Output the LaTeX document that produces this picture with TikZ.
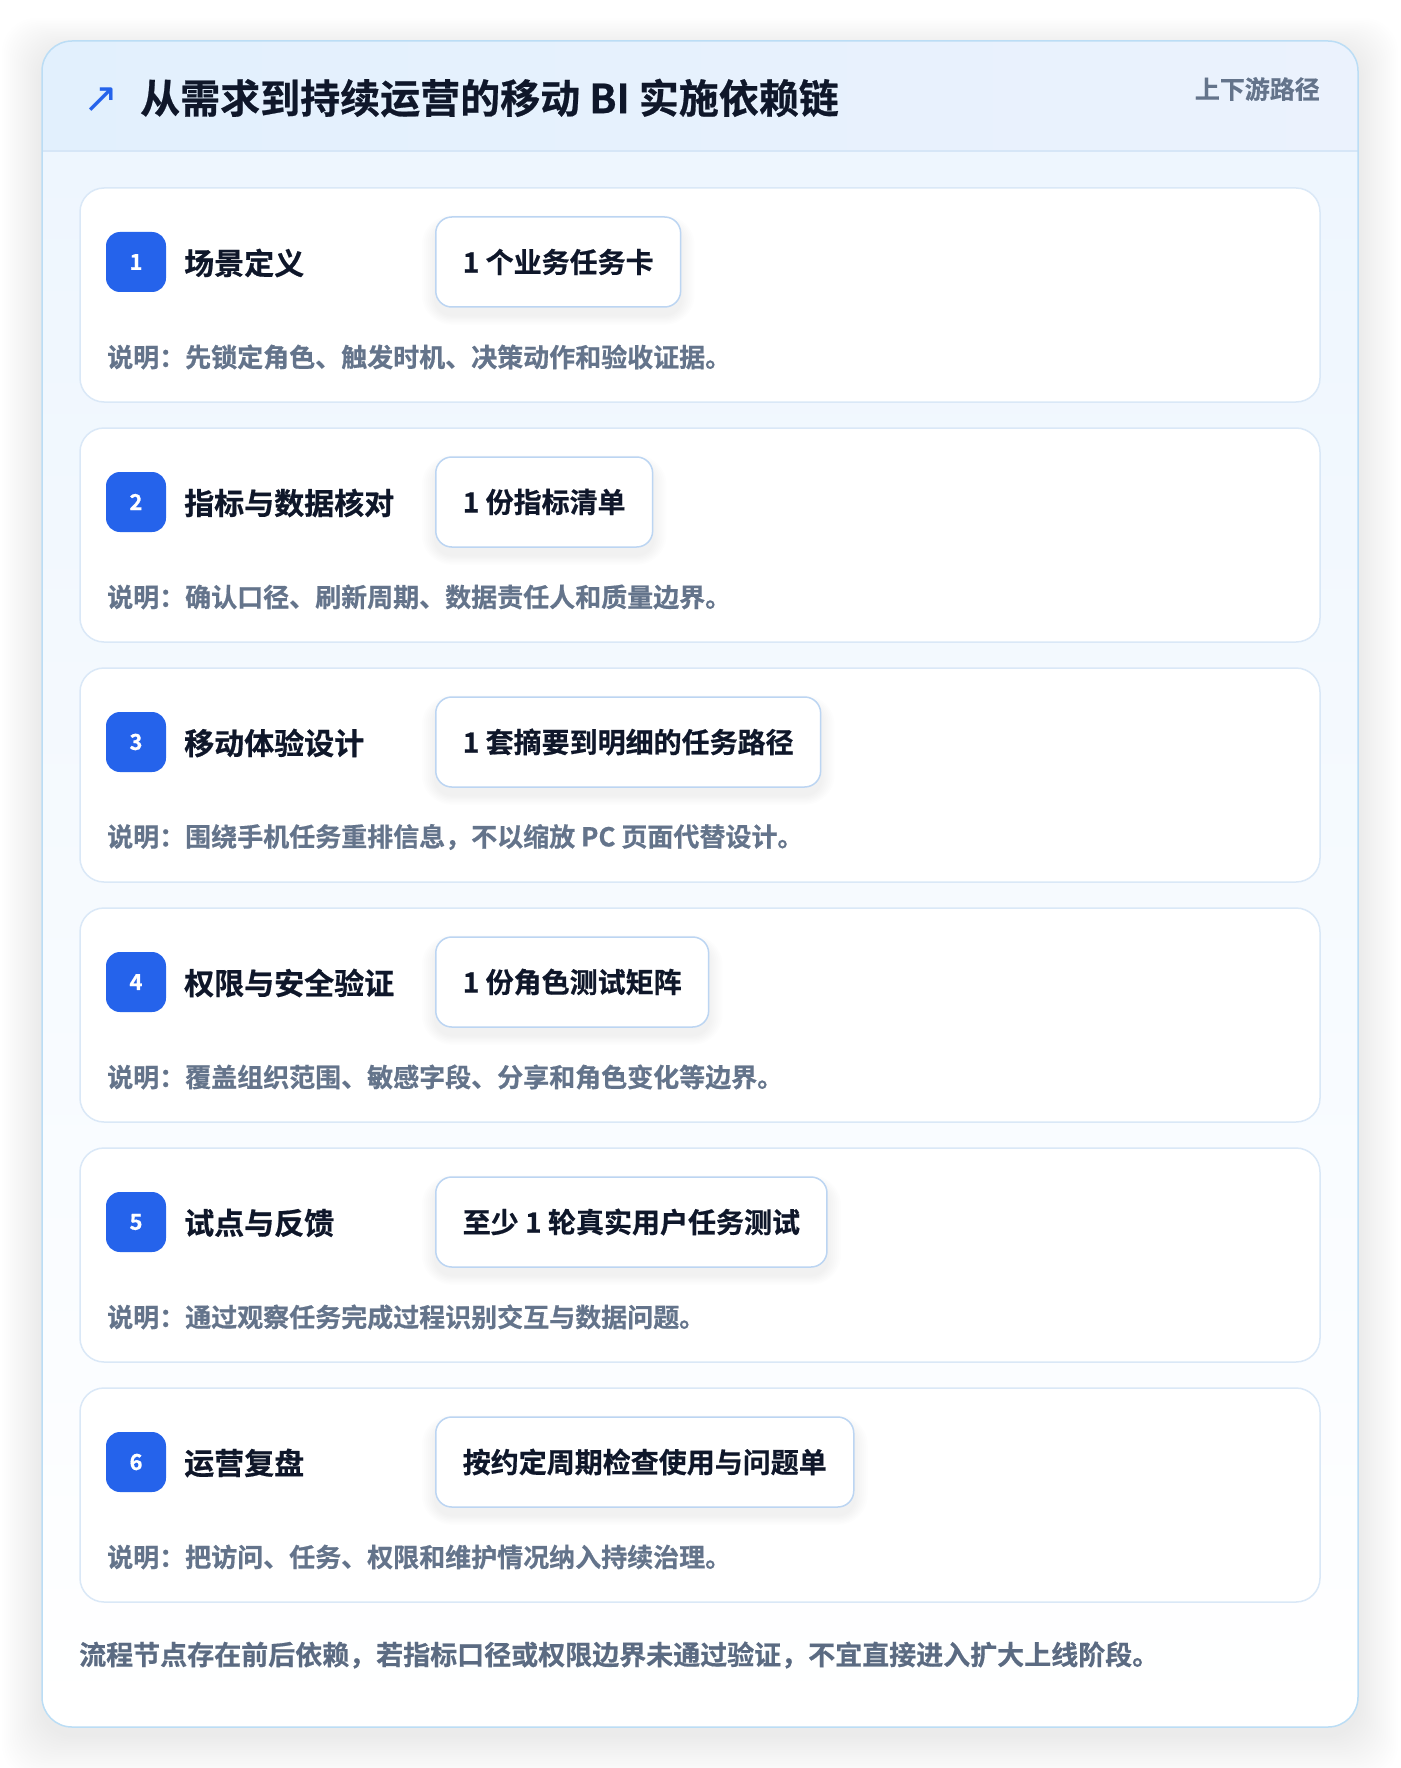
\documentclass[tikz,border=0pt]{standalone}
\usepackage{fontspec}
\setmainfont{Noto Sans CJK SC}[BoldFont={Noto Sans CJK SC Bold}, BoldFeatures={FakeBold=0.6}]
\newfontfamily\symfont{DejaVu Sans}
\definecolor{cardborder}{HTML}{BBDDF5}
\definecolor{hdrL}{HTML}{E2F0FD}
\definecolor{hdrR}{HTML}{EBF2FD}
\definecolor{hdrline}{HTML}{D6E6F7}
\definecolor{bodytop}{HTML}{EEF6FE}
\definecolor{stepborder}{HTML}{DAE8F7}
\definecolor{outborder}{HTML}{BCD5F2}
\definecolor{badgeblue}{HTML}{2563EB}
\definecolor{ink}{HTML}{0F172A}
\definecolor{muted}{HTML}{64748B}
\definecolor{footc}{HTML}{5B6B82}
\tikzset{
  fs/.style={font=\fontsize{#1}{#1}\selectfont\bfseries},
  stepcard/.style={fill=white, draw=stepborder, line width=1.5pt, rounded corners=24pt},
  badge/.style={fill=badgeblue, rounded corners=14pt, minimum width=60pt, minimum height=60pt, inner sep=0pt, text=white, fs=22},
  steptitle/.style={anchor=west, inner sep=0pt, text=ink, fs=30},
  outbox/.style={anchor=west, fill=white, draw=outborder, line width=1.5pt, rounded corners=16pt, minimum height=90pt, inner xsep=27pt, inner ysep=0pt, text=ink, fs=28},
  outshadow/.style={outbox, draw=none, fill=black},
  desc/.style={anchor=west, inner sep=0pt, text=muted, fs=26},
}
\begin{document}
\begin{tikzpicture}[x=1pt,y=-1pt]
\useasboundingbox (0,0) rectangle (1400,1768);
\fill[white] (0,0) rectangle (1400,1768);
% soft shadow of main card
\foreach \k in {1,...,20}{
  \fill[black,opacity=0.0035,rounded corners=34pt] (42-\k*2.0,50-\k*1.6) rectangle (1358+\k*2.0,1735+\k*2.2);
}
% main card
\path[fill=white, rounded corners=30pt] (42,41) rectangle (1358,1727);
\begin{scope}
  \clip[rounded corners=30pt] (42,41) rectangle (1358,1727);
  \shade[top color=bodytop, bottom color=white] (42,151) rectangle (1358,1727);
  \shade[left color=hdrL, right color=hdrR] (42,41) rectangle (1358,151);
  \draw[hdrline, line width=1.5pt] (42,151) -- (1358,151);
\end{scope}
\draw[cardborder, line width=1.5pt, rounded corners=30pt] (42,41) rectangle (1358,1727);
% header
\node[text=badgeblue, inner sep=0pt, font=\symfont\fontsize{42}{42}\selectfont] (icon) at (101,100) {↗};
\node[anchor=west, inner sep=0pt, text=ink, fs=40] (title) at (140,98) {从需求到持续运营的移动 BI 实施依赖链};
\node[anchor=east, inner sep=0pt, text=muted, fs=25] (tag) at (1320,89) {上下游路径};
% steps
\foreach \i/\t/\o/\d in {
 1/场景定义/1 个业务任务卡/说明：先锁定角色、触发时机、决策动作和验收证据。,
 2/指标与数据核对/1 份指标清单/说明：确认口径、刷新周期、数据责任人和质量边界。,
 3/移动体验设计/1 套摘要到明细的任务路径/说明：围绕手机任务重排信息，不以缩放 PC 页面代替设计。,
 4/权限与安全验证/1 份角色测试矩阵/说明：覆盖组织范围、敏感字段、分享和角色变化等边界。,
 5/试点与反馈/至少 1 轮真实用户任务测试/说明：通过观察任务完成过程识别交互与数据问题。,
 6/运营复盘/按约定周期检查使用与问题单/说明：把访问、任务、权限和维护情况纳入持续治理。}{
  \pgfmathsetmacro{\top}{188+240*(\i-1)}
  \path[stepcard] (80,\top) rectangle (1320,\top+214);
  \coordinate (card\i) at (700,\top+107);
  \node[badge] (badge\i) at (136,\top+74) {\i};
  \node[steptitle] (title\i) at (184,\top+75) {\t};
  % soft shadow under output box
  \foreach \s in {2,4,...,14}{
    \node[outshadow, opacity=0.006, inner xsep=27pt+\s pt, minimum height=90pt+1.4*\s pt, rounded corners=16pt+\s pt] at (435-\s,\top+74+8) {\phantom{\o}};
  }
  \node[outbox] (out\i) at (435,\top+74) {\o};
  \node[desc] (desc\i) at (107,\top+169) {\d};
}
\node[anchor=west, inner sep=0pt, text=footc, fs=27] (foot) at (79,1655) {流程节点存在前后依赖，若指标口径或权限边界未通过验证，不宜直接进入扩大上线阶段。};
\end{tikzpicture}
\end{document}
